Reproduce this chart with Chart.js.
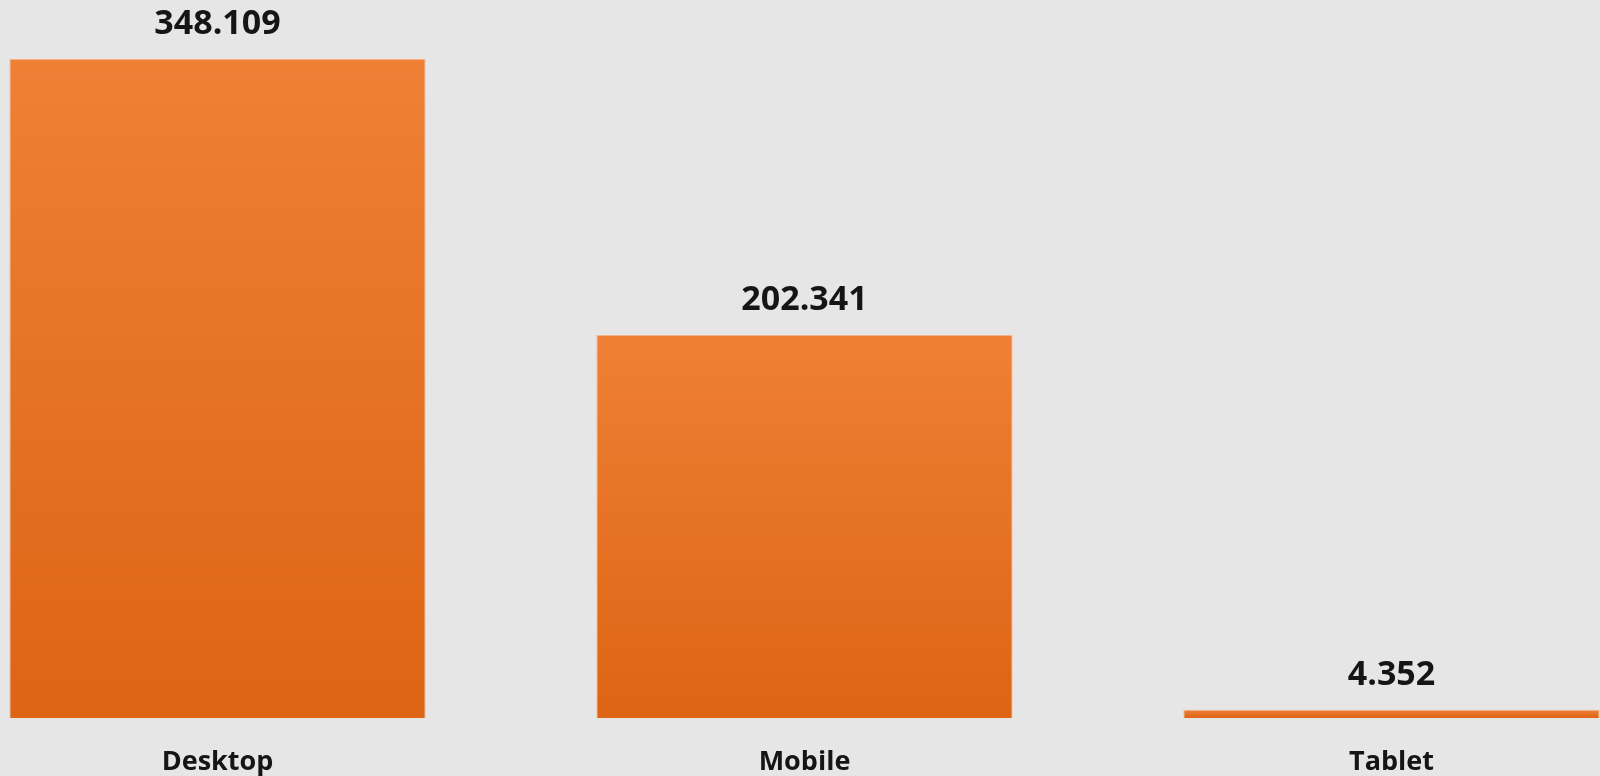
<!DOCTYPE html>
<html>
<head>
<meta charset="utf-8">
<script src="https://cdn.jsdelivr.net/npm/chart.js@4"></script>
<style>
  html, body { margin: 0; padding: 0; background: #e6e6e6; overflow: hidden; }
  #wrap { position: absolute; left: -76px; top: 0; width: 1761px; height: 776px; }
</style>
</head>
<body>
<div id="wrap"><canvas id="deviceChart"></canvas></div>
<script>
const categories = ['Desktop', 'Mobile', 'Tablet'];
const visits = [348.109, 202.341, 4.352];
const valueLabels = ['348.109', '202.341', '4.352'];

// draw the value above each bar
const valueLabelPlugin = {
    id: 'valueLabels',
    afterDatasetsDraw(chart) {
        const ctx = chart.ctx;
        const meta = chart.getDatasetMeta(0);
        ctx.save();
        ctx.font = 'bold 34px "Open Sans"';
        ctx.fillStyle = '#151515';
        ctx.textAlign = 'center';
        ctx.textBaseline = 'alphabetic';
        meta.data.forEach((bar, i) => {
            ctx.fillText(valueLabels[i], bar.x, bar.y - 25);
        });
        ctx.restore();
    }
};

document.addEventListener('DOMContentLoaded', function () {
    const ctx = document.getElementById('deviceChart').getContext('2d');
    new Chart(ctx, {
        type: 'bar',
        data: {
            labels: categories,
            datasets: [{
                data: visits,
                backgroundColor: function (c) {
                    const chart = c.chart;
                    if (!chart.chartArea || c.parsed === undefined) return '#e87528';
                    const y = chart.scales.y;
                    const top = y.getPixelForValue(c.parsed.y);
                    const bottom = y.getPixelForValue(0);
                    const g = chart.ctx.createLinearGradient(0, top, 0, bottom);
                    g.addColorStop(0, '#ef8035');
                    g.addColorStop(1, '#dd6414');
                    return g;
                },
                borderColor: 'rgba(245, 165, 115, 0.8)',
                borderWidth: 1,
                barPercentage: 0.709,
                categoryPercentage: 1
            }]
        },
        options: {
            responsive: true,
            maintainAspectRatio: false,
            animation: false,
            layout: { padding: 0 },
            plugins: {
                legend: { display: false },
                tooltip: { enabled: false }
            },
            scales: {
                x: {
                    grid: { display: false, drawTicks: false },
                    border: { display: false },
                    afterFit: function (scale) { scale.height = 58; },
                    ticks: {
                        color: '#151515',
                        padding: 28,
                        font: { family: '"Open Sans"', size: 27, weight: 'bold' }
                    }
                },
                y: {
                    display: false,
                    min: 0,
                    max: 379.3
                }
            }
        },
        plugins: [valueLabelPlugin]
    });
});
</script>
</body>
</html>
